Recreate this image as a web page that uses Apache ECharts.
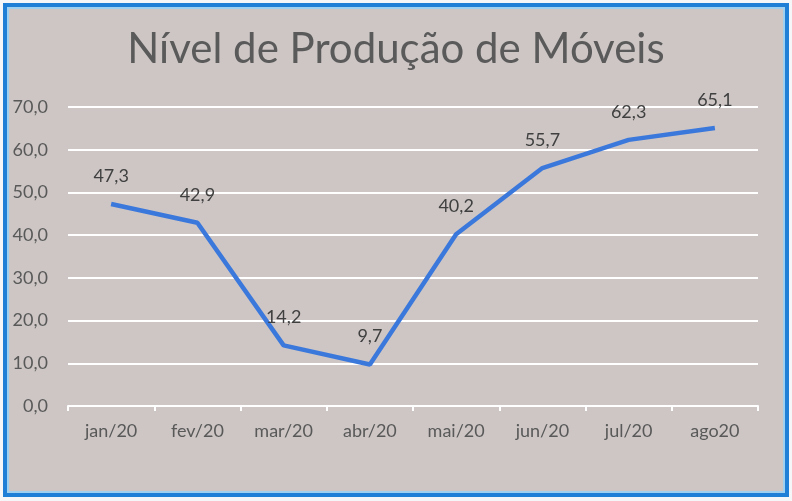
<!DOCTYPE html>
<html>
<head>
<meta charset="utf-8">
<script src="https://cdn.jsdelivr.net/npm/echarts@6/dist/echarts.min.js"></script>
<style>
html,body{margin:0;padding:0;background:#f4f6f8;}
#wrap{position:relative;width:792px;height:501px;}
#frame{position:absolute;left:3px;top:3px;width:778px;height:486px;border:4px solid #1f7fd6;box-shadow:inset 0 0 0 2px #9fd0f0;background:#cdc6c5;}
#chart{position:absolute;left:0;top:0;width:792px;height:501px;}
</style>
</head>
<body>
<div id="wrap">
	<div id="frame"></div>
	<div id="chart"></div>
</div>
<script>
// dados
var meses = ['jan/20','fev/20','mar/20','abr/20','mai/20','jun/20','jul/20','ago20'];
var producao = [47.3, 42.9, 14.2, 9.7, 40.2, 55.7, 62.3, 65.1];

function virgula(v){
	return v.toFixed(1).replace('.', ',');
}

var chart = echarts.init(document.getElementById('chart'));
chart.setOption({
	backgroundColor: 'transparent',
	animation: false,
	title: {
		text: 'Nível de Produção de Móveis',
		left: 'center',
		top: 23,
		textStyle: {
			fontFamily: 'Lato',
			fontSize: 42,
			fontWeight: 'normal',
			color: '#5a5a5a'
		}
	},
	grid: {
		left: 68,
		right: 34,
		top: 107,
		bottom: 95
	},
	xAxis: {
		type: 'category',
		data: meses,
		boundaryGap: true,
		axisLine: {lineStyle: {color: '#ffffff', width: 2}},
		axisTick: {show: true, length: 5, lineStyle: {color: '#ffffff', width: 2}},
		axisLabel: {
			color: '#595959',
			fontFamily: 'Lato',
			fontSize: 18,
			margin: 16
		}
	},
	yAxis: {
		type: 'value',
		min: 0,
		max: 70,
		interval: 10,
		axisLine: {show: false},
		axisTick: {show: false},
		splitLine: {lineStyle: {color: '#ffffff', width: 2}},
		axisLabel: {
			color: '#595959',
			fontFamily: 'Lato',
			fontSize: 18,
			margin: 20,
			formatter: function(v){ return virgula(v); }
		}
	},
	series: [{
		type: 'line',
		data: producao,
		symbol: 'circle',
		symbolSize: 0,
		showSymbol: true,
		lineStyle: {color: '#3b78dc', width: 4.5},
		itemStyle: {color: '#3b78dc'},
		label: {
			show: true,
			position: 'top',
			distance: 19,
			color: '#404040',
			fontFamily: 'Lato',
			fontSize: 18,
			formatter: function(p){ return virgula(p.value); }
		}
	}]
});
</script>
</body>
</html>
